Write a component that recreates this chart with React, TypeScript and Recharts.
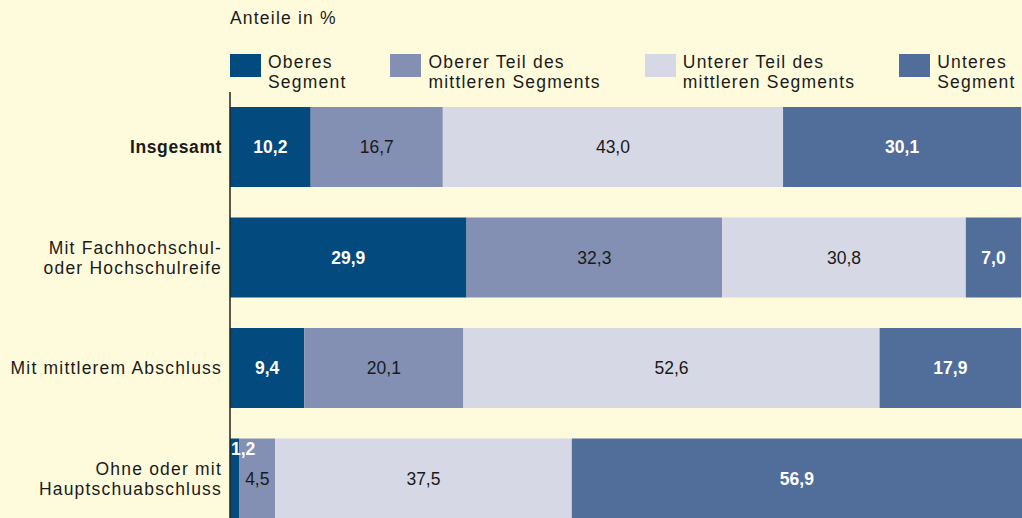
import React from "react"
import { BarChart, Bar, XAxis, YAxis, Legend, LabelList } from "recharts"

// Kategorien (Schulabschluss) und Anteile in %
const categories = [
  "Insgesamt",
  "Mit Fachhochschul-\noder Hochschulreife",
  "Mit mittlerem Abschluss",
  "Ohne oder mit\nHauptschuabschluss",
]
const oberes = [10.2, 29.9, 9.4, 1.2]
const obererMittel = [16.7, 32.3, 20.1, 4.5]
const untererMittel = [43.0, 30.8, 52.6, 37.5]
const unteres = [30.1, 7.0, 17.9, 56.9]

const seriesNames = [
  "Oberes\nSegment",
  "Oberer Teil des\nmittleren Segments",
  "Unterer Teil des\nmittleren Segments",
  "Unteres\nSegment",
]

const data = categories.map((name, i) => ({
  name,
  oberes: oberes[i],
  obererMittel: obererMittel[i],
  untererMittel: untererMittel[i],
  unteres: unteres[i],
}))

const BG = "#fefbdc"
const FONT = '"Liberation Sans", Arial, Helvetica, sans-serif'
const TEXT = "#1a1a1a"

const series = [
  { key: "oberes", color: "#034a7e", bold: true, labelColor: "#ffffff" },
  { key: "obererMittel", color: "#8390b3", bold: false, labelColor: TEXT },
  { key: "untererMittel", color: "#d6d8e6", bold: false, labelColor: TEXT },
  { key: "unteres", color: "#516d99", bold: true, labelColor: "#ffffff" },
]
const seriesKeys = series.map((s) => s.key)

const fmt = (v: number) => v.toFixed(1).replace(".", ",")

function makeLabel(bold: boolean, color: string) {
  return (props: any) => {
    const { x, y, width, height, value } = props
    const small = width < 20
    return (
      <text
        x={small ? x + 1 : x + width / 2}
        y={small ? y + 16 : y + height / 2 + 6}
        textAnchor={small ? "start" : "middle"}
        fill={color}
        fontFamily={FONT}
        fontSize={17.5}
        fontWeight={bold ? 700 : 400}
      >
        {fmt(Number(value))}
      </text>
    )
  }
}

function CategoryTick(props: any) {
  const { y, payload } = props
  const lines = String(payload.value).split("\n")
  const bold = payload.value === "Insgesamt"
  const start = lines.length === 1 ? 6 : -4
  return (
    <text
      x={222}
      y={y}
      textAnchor="end"
      fill={TEXT}
      fontFamily={FONT}
      fontSize={17.5}
      fontWeight={bold ? 700 : 400}
      letterSpacing={bold ? 0.6 : 1.2}
    >
      {lines.map((l, i) => (
        <tspan key={i} x={222} dy={i === 0 ? start : 20}>
          {l}
        </tspan>
      ))}
    </text>
  )
}

function LegendContent(props: any) {
  const payload = [...(props.payload || [])].sort(
    (a: any, b: any) => seriesKeys.indexOf(a.dataKey) - seriesKeys.indexOf(b.dataKey)
  )
  return (
    <div style={{ position: "relative", width: 1400, height: 100, fontFamily: FONT, color: TEXT }}>
      <div style={{ position: "absolute", left: 230, top: 8, fontSize: 17.5, lineHeight: "20px", letterSpacing: 1.2 }}>
        Anteile in %
      </div>
      <div style={{ position: "absolute", left: 230, top: 52, display: "flex" }}>
        {payload.map((p: any, i: number) => (
          <div key={i} style={{ display: "flex", flexShrink: 0, marginRight: 44 }}>
            <div style={{ width: 31, height: 23, marginTop: 2, background: p.color, flexShrink: 0 }} />
            <div style={{ marginLeft: 7, fontSize: 17.5, lineHeight: "20px", letterSpacing: 1.2 }}>
              {String(p.value)
                .split("\n")
                .map((l: string, j: number) => (
                  <div key={j} style={{ whiteSpace: "nowrap" }}>
                    {l}
                  </div>
                ))}
            </div>
          </div>
        ))}
      </div>
    </div>
  )
}

export default function App() {
  return (
    <div
      style={{
        position: "absolute",
        left: 0,
        top: 0,
        width: 1022,
        height: 518,
        overflow: "hidden",
        background: BG,
      }}
    >
      <BarChart
        width={1022}
        height={534}
        data={data}
        layout="vertical"
        margin={{ top: 92, right: 0, bottom: 0, left: 0 }}
        barSize={80}
      >
        <XAxis type="number" domain={[0, 100]} hide />
        <YAxis
          type="category"
          dataKey="name"
          width={230}
          tickLine={false}
          axisLine={{ stroke: "#222", strokeWidth: 1.5 }}
          tick={<CategoryTick />}
          interval={0}
        />
        <Legend
          layout="horizontal"
          verticalAlign="middle"
          content={<LegendContent />}
          wrapperStyle={{ top: 0, left: 0, width: 1400, height: 100 }}
        />
        {series.map((s, i) => (
          <Bar
            key={s.key}
            dataKey={s.key}
            name={seriesNames[i]}
            stackId="a"
            fill={s.color}
            isAnimationActive={false}
          >
            <LabelList dataKey={s.key} content={makeLabel(s.bold, s.labelColor)} />
          </Bar>
        ))}
      </BarChart>
    </div>
  )
}
